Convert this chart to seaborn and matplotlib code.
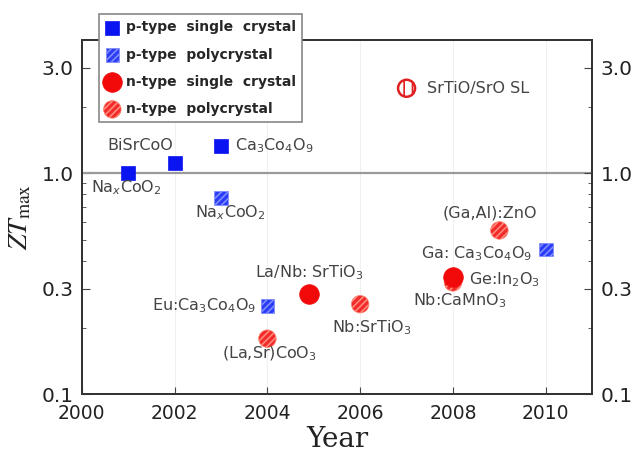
import numpy as np
import pandas as pd
import matplotlib
matplotlib.use("Agg")
import matplotlib.pyplot as plt
import seaborn as sns
from matplotlib.ticker import FixedLocator, FixedFormatter, LogLocator, NullFormatter

# ZT values
p_single_year = [2001, 2002, 2003]
p_single_zt = [1.0, 1.11, 1.32]

p_poly_year = [2003, 2004, 2010]
p_poly_zt = [0.77, 0.25, 0.45]

n_single_year = [2004.9, 2008]
n_single_zt = [0.285, 0.34]

n_poly_year = [2004, 2006, 2008, 2009]
n_poly_zt = [0.178, 0.255, 0.32, 0.55]

sl_year = [2007]
sl_zt = [2.42]

# text labels (label, year, zt, ha)
labels = [
    ("BiSrCoO", 2001.25, 1.33, "center"),
    ("Ca$_3$Co$_4$O$_9$", 2003.3, 1.33, "left"),
    ("Na$_x$CoO$_2$", 2000.95, 0.86, "center"),
    ("Na$_x$CoO$_2$", 2003.2, 0.66, "center"),
    ("Eu:Ca$_3$Co$_4$O$_9$", 2003.75, 0.25, "right"),
    ("(La,Sr)CoO$_3$", 2004.05, 0.152, "center"),
    ("La/Nb: SrTiO$_3$", 2004.9, 0.355, "center"),
    ("Nb:SrTiO$_3$", 2006.25, 0.2, "center"),
    ("SrTiO/SrO SL", 2007.45, 2.42, "left"),
    ("(Ga,Al):ZnO", 2008.8, 0.66, "center"),
    ("Ga: Ca$_3$Co$_4$O$_9$", 2009.7, 0.43, "right"),
    ("Ge:In$_2$O$_3$", 2008.35, 0.33, "left"),
    ("Nb:CaMnO$_3$", 2008.15, 0.264, "center"),
]

legend_labels = ["p-type  single  crystal", "p-type  polycrystal",
                 "n-type  single  crystal", "n-type  polycrystal"]

yticks = [0.1, 0.3, 1.0, 3.0]
ytick_labels = ["0.1", "0.3", "1.0", "3.0"]
xticks = [2000, 2002, 2004, 2006, 2008, 2010]

sns.set_style("white")
plt.rcParams["font.family"] = ["DejaVu Sans"]
plt.rcParams["hatch.linewidth"] = 1.2

fig = plt.figure(figsize=(6.34, 4.55), dpi=100)
ax = fig.add_axes([0.129, 0.134, 0.805, 0.778])

ax.set_yscale("log")
ax.axhline(1.0, color="#9a9a9a", lw=1.6, zorder=1)
for xv in xticks[1:]:
    ax.axvline(xv, color="#f0f0f0", lw=0.8, zorder=0)

sns.scatterplot(x=p_single_year, y=p_single_zt, marker="s", s=95,
                color="#0a14f0", edgecolor="#0a14f0", linewidth=0.5, ax=ax, zorder=3)
h_ps = ax.collections[-1]
sns.scatterplot(x=p_poly_year, y=p_poly_zt, marker="s", s=95,
                color="#2a3cf5", edgecolor="#7f8dff", linewidth=0.5, ax=ax, zorder=3)
h_pp = ax.collections[-1]
h_pp.set_hatch("/////")
sns.scatterplot(x=n_poly_year, y=n_poly_zt, marker="o", s=160,
                color="#f22a2a", edgecolor="#ff8a7a", linewidth=0.5, ax=ax, zorder=3)
h_np = ax.collections[-1]
h_np.set_hatch("/////")
sns.scatterplot(x=n_single_year, y=n_single_zt, marker="o", s=200,
                color="#f20a0a", edgecolor="#f20a0a", linewidth=0.5, ax=ax, zorder=4)
h_ns = ax.collections[-1]
sns.scatterplot(x=sl_year, y=sl_zt, marker="o", s=150,
                color="white", edgecolor="#e02020", linewidth=1.8, ax=ax, zorder=3)
ax.collections[-1].set_hatch("||")

for text, xv, yv, ha in labels:
    ax.text(xv, yv, text, ha=ha, va="center", fontsize=11.5, color="#444444", zorder=5)

ax.set_xlim(2000, 2011)
ax.set_ylim(0.1, 4.0)
ax.set_xticks(xticks)
ax.set_xticklabels([str(x) for x in xticks], fontsize=13.5, color="#222222")
ax.set_xlabel("Year", fontsize=20, family="DejaVu Serif", color="#222222", labelpad=2)
ax.set_ylabel(r"$\mathit{ZT}_{\mathrm{max}}$", fontsize=20, color="#222222",
              math_fontfamily="stix", labelpad=6)

ax2 = ax.twinx()
ax2.set_yscale("log")
ax2.set_ylim(0.1, 4.0)
for a in (ax, ax2):
    a.yaxis.set_major_locator(FixedLocator(yticks))
    a.yaxis.set_major_formatter(FixedFormatter(ytick_labels))
    a.yaxis.set_minor_locator(LogLocator(base=10, subs=np.arange(2, 10)))
    a.yaxis.set_minor_formatter(NullFormatter())
    a.tick_params(axis="y", which="major", direction="in", length=6, labelsize=14.5,
                  labelcolor="#222222", color="#444444", pad=6)
    a.tick_params(axis="y", which="minor", direction="in", length=3, color="#444444")
    for sp in a.spines.values():
        sp.set_color("#333333")
        sp.set_linewidth(1.4)
ax.tick_params(axis="x", direction="in", length=5, color="#444444", bottom=True, pad=7)
ax.tick_params(axis="y", left=True)
ax2.tick_params(axis="y", right=True)

leg = ax2.legend([h_ps, h_pp, h_ns, h_np], legend_labels, loc="upper left",
                 bbox_to_anchor=(0.034, 1.073), frameon=True, fancybox=False,
                 prop={"weight": "bold", "size": 10}, handletextpad=0.5,
                 borderpad=0.45, labelspacing=0.95, handlelength=1.0,
                 borderaxespad=0)
leg.get_frame().set_edgecolor("#888888")
leg.get_frame().set_linewidth(1.2)
leg.get_frame().set_alpha(1)
leg.set_zorder(10)

fig.savefig("out.png", dpi=100)
